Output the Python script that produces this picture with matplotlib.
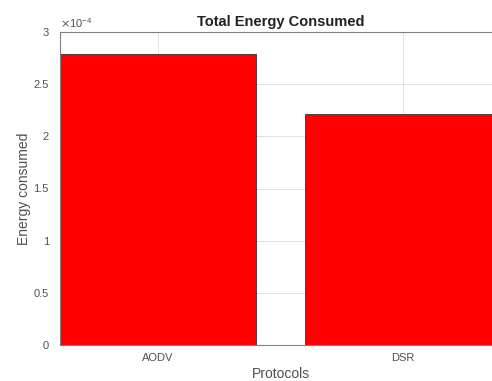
import matplotlib.pyplot as plt

protocols = ["AODV", "DSR"]
energy = [2.79e-4, 2.215e-4]
yticks = [0, 0.5e-4, 1e-4, 1.5e-4, 2e-4, 2.5e-4, 3e-4]
ytick_labels = ["0", "0.5", "1", "1.5", "2", "2.5", "3"]

plt.rcParams["font.family"] = ["Liberation Sans", "DejaVu Sans"]

fig = plt.figure(figsize=(4.92, 3.81), dpi=100)
ax = fig.add_axes([60 / 492, 36 / 381, 441 / 492, 313 / 381])

x = [1, 2]
ax.bar(x, energy, width=0.8, color="#ff0000", edgecolor="#333333", linewidth=0.6, zorder=2)

ax.set_xlim(0.6, 2.4)
ax.set_ylim(0, 3e-4)
ax.set_xticks(x)
ax.set_xticklabels(protocols)
ax.set_yticks(yticks)
ax.set_yticklabels(ytick_labels)
ax.tick_params(labelsize=8, colors="#262626", length=2.5, width=0.5, direction="in")
ax.tick_params(axis="y", pad=8)
ax.tick_params(axis="x", pad=6)
ax.tick_params(labelcolor="#505050")
ax.grid(True, color="#dcdcdc", linewidth=0.6, zorder=0)
ax.set_axisbelow(True)
for s in ax.spines.values():
    s.set_color("#808080")
    s.set_linewidth(0.8)

ax.text(0.0, 1.005, r"$\times\mathregular{10^{-4}}$", transform=ax.transAxes,
        fontsize=8, color="#505050", ha="left", va="bottom")
ax.set_title("Total Energy Consumed", fontsize=10.5, fontweight="bold", pad=4, color="#222222")
ax.set_ylabel("Energy consumed", fontsize=10, color="#505050", labelpad=2)
ax.set_xlabel("Protocols", fontsize=10, color="#505050", labelpad=3)

fig.savefig("out.png", dpi=100)
